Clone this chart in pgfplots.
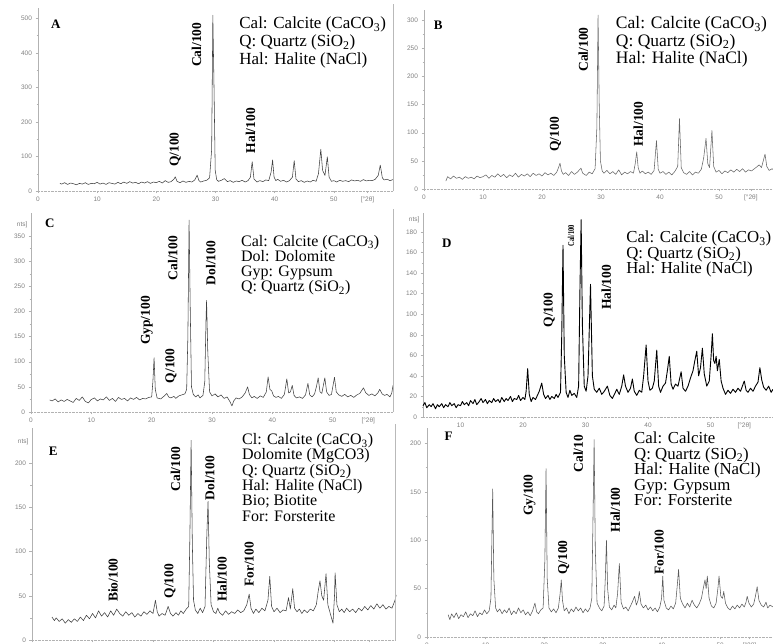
\documentclass[border=0pt]{standalone}
\usepackage{pgfplots}
\pgfplotsset{compat=1.18}
\usepackage{fontspec}
\setmainfont{Liberation Serif}
\newfontfamily\ticksf{Liberation Sans}

\newcommand{\peakfont}{\bfseries\fontsize{13.5}{14}\selectfont}
\newcommand{\panelfont}{\bfseries\fontsize{13}{14}\selectfont}

\tikzset{
  legtxt/.style={anchor=north west, align=left, inner sep=0pt},
  plab/.style={rotate=90, anchor=west, inner sep=0pt, font=\peakfont},
}
\pgfplotsset{
  xrd/.style={
    scale only axis,
    axis x line=bottom,
    axis y line=left,
    x axis line style={gray!60, densely dotted, -},
    y axis line style={gray!60, -},
    tick style={gray!60, thin},
    tick align=outside,
    major tick length=2.5pt,
    minor tick length=1.5pt,
    minor x tick num=4,
    minor y tick num=1,
    ytick pos=left,
    xtick pos=bottom,
    tick label style={font=\ticksf\fontsize{6.5}{7}\selectfont, text=gray},
    /pgf/number format/assume math mode=true,
    clip=false,
    every axis plot/.append style={line join=round},
  },
  sig/.style={black!75, line width=0.55pt},
}
% right-hand frame line of the left-column panels
\newcommand{\rightframe}{\draw[gray!55, thin] (rel axis cs:1,0) -- (rel axis cs:1,1.02);}

\begin{document}
\begin{tikzpicture}
\path[use as bounding box] (0pt,0pt) rectangle (773pt,644pt);

% ---------------- A ----------------
\begin{axis}[xrd, at={(38pt,453pt)}, width=355pt, height=183pt,
  xmin=0, xmax=60, ymin=0, ymax=530,
  xtick={0,10,20,30,40,50,55.7}, xticklabels={0,10,20,30,40,50,{[°2θ]}},
  ytick={0,100,...,500}]
\addplot[sig] table {
3.7 22
4.0 20
4.5 24
5.0 19
5.5 23
6.0 21
6.5 18
7.0 22
7.5 20
8.0 24
8.5 19
9.0 22
9.5 21
10.0 25
10.5 20
11.0 23
11.5 19
12.0 24
12.5 22
13.0 20
13.5 25
14.0 21
14.5 26
15.0 22
15.5 27
16.0 23
16.5 25
17.0 21
17.5 26
18.0 23
18.5 27
19.0 22
19.5 26
20.0 24
20.5 28
21.0 23
21.5 30
22.0 25
22.5 27
23.0 35
23.2 41
23.5 28
24.0 24
24.5 29
25.0 25
25.5 28
26.0 26
26.5 32
26.9 46
27.2 30
27.5 26
28.0 29
28.5 31
29.0 38
29.35 120
29.55 509
29.75 300
29.95 60
30.2 33
30.5 28
31.0 31
31.5 36
32.0 27
32.5 30
33.0 25
33.5 29
34.0 27
34.5 31
35.0 26
35.5 30
35.9 40
36.2 85
36.5 35
37.0 26
37.5 30
38.0 27
38.5 32
39.0 30
39.4 55
39.65 90
39.9 40
40.2 30
40.5 34
41.0 28
41.5 31
42.0 26
42.5 30
43.0 40
43.3 88
43.6 35
44.0 27
44.5 30
45.0 25
45.5 29
46.0 26
46.5 31
47.0 28
47.4 50
47.8 121
48.1 60
48.5 45
48.9 99
49.2 40
49.6 28
50.0 30
50.5 26
51.0 31
51.5 28
52.0 30
52.5 27
53.0 32
53.5 29
54.0 31
54.5 28
55.0 33
55.5 29
56.0 31
56.5 30
57.0 34
57.5 45
57.85 75
58.2 38
58.5 32
59.0 34
59.5 30
60.0 33
};
\rightframe
\node[font=\panelfont] at (axis cs:3.0,483) {A};
\node[plab] at (axis cs:23.2,69) {Q/100};
\node[plab] at (axis cs:26.8,359) {Cal/100};
\node[plab] at (axis cs:35.9,109) {Hal/100};
\node[legtxt, font=\fontsize{17}{18}\selectfont] at (axis cs:34.0,505)
  {Cal: Calcite (CaCO\textsubscript{3})\\Q: Quartz (SiO\textsubscript{2})\\Hal: Halite (NaCl)};
\end{axis}

% ---------------- B ----------------
\begin{axis}[xrd, at={(424pt,455pt)}, width=354pt, height=179pt,
  xmin=0, xmax=60, ymin=0, ymax=318,
  xtick={0,10,20,30,40,50,55.4}, xticklabels={0,10,20,30,40,50,{[°2θ]}},
  ytick={0,50,...,300}]
\addplot[sig, black!60] table {
3.7 14
4.0 22
4.5 18
5.0 23
5.5 19
6.0 21
6.5 17
7.0 22
7.5 19
8.0 21
8.5 18
9.0 23
9.5 20
10.0 22
10.5 25
11.0 19
11.5 24
12.0 21
12.5 27
13.0 22
13.5 26
14.0 20
14.5 25
15.0 22
15.5 28
16.0 21
16.5 26
17.0 23
17.5 27
18.0 22
18.5 28
19.0 24
19.5 27
20.0 23
20.5 29
21.0 25
21.5 28
22.0 24
22.5 30
22.8 38
23.05 46
23.3 32
23.6 26
24.0 29
24.5 24
25.0 31
25.5 26
26.0 30
26.6 37
26.9 28
27.5 24
28.0 30
28.5 27
29.0 36
29.3 110
29.5 309
29.7 150
29.9 50
30.2 32
30.5 28
31.0 33
31.5 27
32.0 31
32.5 26
33.0 34
33.5 25
34.0 30
34.5 27
35.0 31
35.5 28
35.8 45
36.05 66
36.3 38
36.6 28
37.0 32
37.5 27
38.0 30
38.5 26
39.0 33
39.4 86
39.7 35
40.0 28
40.5 31
41.0 26
41.5 30
42.0 25
42.5 31
43.0 40
43.3 125
43.6 38
44.0 29
44.5 26
45.0 31
45.5 25
46.0 30
46.5 28
47.0 35
47.4 55
47.8 90
48.1 45
48.4 38
48.8 104
49.1 40
49.5 30
50.0 33
50.5 27
51.0 32
51.5 29
52.0 34
52.5 30
53.0 35
53.5 31
54.0 36
54.5 30
55.0 34
55.5 32
56.0 36
56.5 40
56.8 43
57.2 38
57.8 62
58.1 40
58.5 33
59.0 36
59.5 31
60.0 35
};
\node[font=\panelfont] at (axis cs:2.4,290) {B};
\node[plab] at (axis cs:22.3,66) {Q/100};
\node[plab] at (axis cs:27.0,208) {Cal/100};
\node[plab] at (axis cs:36.3,75) {Hal/100};
\node[legtxt, font=\fontsize{17.5}{17.7}\selectfont] at (axis cs:32.5,307)
  {Cal: Calcite (CaCO\textsubscript{3})\\Q: Quartz (SiO\textsubscript{2})\\Hal: Halite (NaCl)};
\end{axis}

% ---------------- C ----------------
\begin{axis}[xrd, at={(31pt,232pt)}, width=362pt, height=199pt,
  xmin=0, xmax=60, ymin=0, ymax=396,
  xtick={0,10,20,30,40,50,55.9}, xticklabels={0,10,20,30,40,50,{[°2θ]}},
  ytick={0,50,...,350}, extra y ticks={373}, extra y tick labels={nts]},
  extra y tick style={major tick length=0pt}]
\addplot[sig] table {
3.1 24
3.5 22
4.0 26
4.5 20
5.0 24
5.5 21
6.0 25
6.5 22
7.0 19
7.5 27
8.0 23
8.5 30
9.0 21
9.5 18
10.0 25
10.5 28
11.0 22
11.5 26
12.0 24
12.5 30
13.0 23
13.5 27
14.0 21
14.5 29
15.0 25
15.5 27
16.0 22
16.5 28
17.0 25
17.5 29
18.0 24
18.5 27
19.0 26
19.5 29
20.0 30
20.2 60
20.4 108
20.6 45
20.9 28
21.5 26
22.0 31
22.5 37
22.8 30
23.2 28
23.7 31
24.0 27
24.5 32
25.0 34
25.5 36
25.8 45
26.0 150
26.2 382
26.4 200
26.6 50
26.9 35
27.3 30
27.7 34
28.0 28
28.5 33
28.8 60
29.0 180
29.1 222
29.3 120
29.6 40
30.0 32
30.5 36
31.0 30
31.5 34
32.0 27
32.5 30
33.0 20
33.3 12
33.6 22
34.0 28
34.5 26
35.0 30
35.5 38
35.9 50
36.2 35
36.6 28
37.0 31
37.5 27
38.0 32
38.5 29
39.0 40
39.3 70
39.6 45
39.9 42
40.2 32
40.6 29
41.0 31
41.5 27
42.0 35
42.4 66
42.7 38
43.0 40
43.3 53
43.6 33
44.0 28
44.5 30
45.0 27
45.5 34
45.9 57
46.2 34
46.6 30
47.0 36
47.3 50
47.6 68
47.9 40
48.2 37
48.7 68
49.0 40
49.4 33
49.8 35
50.3 69
50.6 40
51.0 34
51.5 31
52.0 35
52.5 30
53.0 33
53.5 29
54.0 34
54.5 37
55.1 48
55.5 38
56.0 33
56.5 36
57.0 32
57.5 38
57.8 45
58.2 36
58.6 33
59.0 35
59.5 30
59.8 38
60.0 53
};
\rightframe
\node[font=\panelfont] at (axis cs:3.1,375) {C};
\node[plab] at (axis cs:19.2,133) {Gyp/100};
\node[plab] at (axis cs:23.2,57) {Q/100};
\node[plab] at (axis cs:23.5,262) {Cal/100};
\node[plab] at (axis cs:29.8,252) {Dol/100};
\node[legtxt, font=\fontsize{16}{14.3}\selectfont] at (axis cs:34.8,352)
  {Cal: Calcite (CaCO\textsubscript{3})\\Dol: Dolomite\\Gyp: Gypsum\\Q: Quartz (SiO\textsubscript{2})};
\end{axis}

% ---------------- D ----------------
\begin{axis}[xrd, at={(423pt,227pt)}, width=350pt, height=203.5pt,
  xmin=4, xmax=60, ymin=0, ymax=198,
  xtick={10,20,30,40,50,55.4}, xticklabels={10,20,30,40,50,{[°2θ]}},
  ytick={0,20,...,180}, extra y ticks={192}, extra y tick labels={nts]},
  extra y tick style={major tick length=0pt}]
\addplot[black, line width=0.9pt] table {
4.0 11
4.3 14
4.6 9
5.0 12
5.3 10
5.6 13
6.0 8
6.3 12
6.6 10
7.0 13
7.3 9
7.6 12
8.0 10
8.3 14
8.6 11
9.0 13
9.3 9
9.6 12
10.0 11
10.3 15
10.6 12
11.0 14
11.3 11
11.6 16
12.0 13
12.3 17
12.6 12
13.0 15
13.3 18
13.6 14
14.0 17
14.3 13
14.6 16
15.0 14
15.3 18
15.6 15
16.0 17
16.3 14
16.6 19
17.0 15
17.3 18
17.6 16
18.0 20
18.3 15
18.6 18
19.0 17
19.3 21
19.6 16
20.0 19
20.3 17
20.5 25
20.75 47
21.0 22
21.3 15
21.6 19
22.0 17
22.3 21
22.6 25
23.0 33
23.3 22
23.6 18
24.0 21
24.3 17
24.6 20
25.0 18
25.3 22
25.6 19
26.0 24
26.2 80
26.4 167
26.6 60
26.9 24
27.2 19
27.5 26
27.8 21
28.2 23
28.6 19
28.9 30
29.1 120
29.3 192
29.5 90
29.8 30
30.1 25
30.4 40
30.8 129
31.1 40
31.4 27
31.8 24
32.2 28
32.6 22
33.0 25
33.5 30
33.9 21
34.3 18
34.7 23
35.0 27
35.4 22
35.8 30
36.1 41
36.4 30
36.8 24
37.2 28
37.5 37
37.8 25
38.2 21
38.6 26
39.0 24
39.3 40
39.7 70
40.0 35
40.3 26
40.7 28
41.0 35
41.4 65
41.7 30
42.0 24
42.4 30
42.8 33
43.1 45
43.4 59
43.7 32
44.0 27
44.4 32
44.8 30
45.3 44
45.6 28
46.0 25
46.4 30
46.8 38
47.2 45
47.5 55
47.8 64
48.1 40
48.4 48
48.7 67
49.0 42
49.4 30
49.8 35
50.1 60
50.3 81
50.5 55
50.7 52
50.9 59
51.1 45
51.4 56
51.7 35
52.0 28
52.4 22
52.8 26
53.2 23
53.6 27
54.0 24
54.4 28
54.8 25
55.1 30
55.4 35
55.7 26
56.0 24
56.4 28
56.8 25
57.2 30
57.6 34
57.9 48
58.2 36
58.5 29
58.9 26
59.3 30
59.7 24
60.0 27
};
\node[font=\panelfont] at (axis cs:7.8,169) {D};
\node[plab] at (axis cs:24.2,87) {Q/100};
\node[plab, font=\bfseries\fontsize{9}{9}\selectfont, xscale=0.72] at (axis cs:27.7,166) {Cal/100};
\node[plab] at (axis cs:33.3,104) {Hal/100};
\node[legtxt, font=\fontsize{16.8}{15.5}\selectfont] at (axis cs:36.5,181)
  {Cal: Calcite (CaCO\textsubscript{3})\\Q: Quartz (SiO\textsubscript{2})\\Hal: Halite (NaCl)};
\end{axis}

% ---------------- E ----------------
\begin{axis}[xrd, at={(32pt,4pt)}, width=363pt, height=212pt,
  xmin=0, xmax=60, ymin=0, ymax=240,
  xtick={0,10,20,30,40,50,55.7}, xticklabels={0,10,20,30,40,50,{[°2θ]}},
  ytick={0,50,...,200}, extra y ticks={224}, extra y tick labels={nts]},
  extra y tick style={major tick length=0pt}]
\addplot[sig] table {
3.3 26
3.7 22
4.0 25
4.5 21
5.0 24
5.5 19
6.0 23
6.5 20
7.0 24
7.5 21
8.0 26
8.5 22
9.0 28
9.5 24
10.0 30
10.5 25
11.0 33
11.5 27
12.0 31
12.5 26
13.0 33
13.5 28
14.0 35
14.5 30
15.0 27
15.5 32
16.0 28
16.5 31
17.0 26
17.5 30
18.0 27
18.5 32
19.0 29
19.5 33
20.0 30
20.4 45
20.7 32
21.0 27
21.5 30
22.0 28
22.5 38
22.9 30
23.3 27
23.8 31
24.2 28
24.6 33
25.0 30
25.5 35
25.9 38
26.1 120
26.3 226
26.5 110
26.7 45
27.0 34
27.4 30
27.8 36
28.2 31
28.6 38
28.9 120
29.1 157
29.3 90
29.6 40
30.0 32
30.4 30
30.7 36
31.0 31
31.5 28
32.0 33
32.5 29
33.0 32
33.5 30
34.0 34
34.5 31
35.0 33
35.5 40
35.9 52
36.2 36
36.6 30
37.0 35
37.5 31
38.0 36
38.5 33
39.0 45
39.3 72
39.6 38
40.0 32
40.5 36
41.0 31
41.5 34
42.0 33
42.4 48
42.7 35
43.1 58
43.4 36
43.8 32
44.2 35
44.6 30
45.0 34
45.5 31
46.0 35
46.5 33
47.0 40
47.3 55
47.6 67
47.9 50
48.2 45
48.6 75
48.9 40
49.3 30
49.75 19
50.0 50
50.1 76
50.4 40
50.8 32
51.2 35
51.6 31
52.0 36
52.5 32
53.0 35
53.5 31
54.0 36
54.5 33
55.0 38
55.5 34
56.0 39
56.5 35
57.0 41
57.5 36
58.0 40
58.5 35
59.0 38
59.5 36
60.0 45
60.2 51
};
\rightframe
\node[font=\panelfont] at (axis cs:3.5,214) {E};
\node[plab] at (axis cs:13.4,43) {Bio/100};
\node[plab] at (axis cs:22.8,47) {Q/100};
\node[plab] at (axis cs:23.7,168) {Cal/100};
\node[plab] at (axis cs:29.4,158) {Dol/100};
\node[plab] at (axis cs:31.4,43) {Hal/100};
\node[plab] at (axis cs:35.9,60) {For/100};
\node[legtxt, font=\fontsize{16}{15.3}\selectfont] at (axis cs:34.7,234)
  {Cl: Calcite (CaCO\textsubscript{3})\\Dolomite (MgCO3)\\Q: Quartz (SiO\textsubscript{2})\\Hal: Halite (NaCl)\\Bio; Biotite\\For: Forsterite};
\end{axis}

% ---------------- F ----------------
\begin{axis}[xrd, at={(427pt,7pt)}, width=346pt, height=209pt,
  xmin=0, xmax=59, ymin=0, ymax=216,
  xtick={0,10,20,30,40,50,55}, xticklabels={0,10,20,30,40,50,{[°2θ]}},
  ytick={0,50,...,200}]
\addplot[sig, black!65] table {
3.6 23
3.9 18
4.2 24
4.6 20
5.0 25
5.4 19
5.8 23
6.2 21
6.6 26
7.0 20
7.4 24
7.8 22
8.2 27
8.6 21
9.0 25
9.4 23
9.8 28
10.2 24
10.6 27
10.9 40
11.2 153
11.4 60
11.7 30
12.0 26
12.4 29
12.8 24
13.2 28
13.6 25
14.0 30
14.4 23
14.8 27
15.2 24
15.6 30
16.0 25
16.4 28
16.8 23
17.2 26
17.6 22
18.0 27
18.4 35
18.7 26
19.0 24
19.4 28
19.8 30
20.1 80
20.3 174
20.5 60
20.8 30
21.2 26
21.6 29
22.0 25
22.4 30
22.7 45
22.9 59
23.1 38
23.4 27
23.8 30
24.2 24
24.6 29
25.0 26
25.4 31
25.8 27
26.2 30
26.6 25
27.0 29
27.4 26
27.8 30
28.1 40
28.3 120
28.5 204
28.7 90
29.0 35
29.4 30
29.8 27
30.2 32
30.4 60
30.6 100
30.8 50
31.1 31
31.5 28
31.9 33
32.2 30
32.5 45
32.8 76
33.1 36
33.5 29
33.9 31
34.3 27
34.7 32
35.0 36
35.4 42
35.7 33
36.0 38
36.2 47
36.5 34
36.9 30
37.3 33
37.7 28
38.1 31
38.5 27
38.9 30
39.3 26
39.7 31
40.0 40
40.2 63
40.4 38
40.8 30
41.2 28
41.6 32
42.0 29
42.4 35
42.7 55
42.9 70
43.2 40
43.6 34
44.0 30
44.4 35
44.8 31
45.2 38
45.6 33
46.0 30
46.4 34
46.8 40
47.1 50
47.4 59
47.6 50
47.8 63
48.1 40
48.5 32
48.9 30
49.3 35
49.6 50
49.8 63
50.1 42
50.4 40
50.6 47
50.9 35
51.3 30
51.7 28
52.1 32
52.5 29
52.9 33
53.3 30
53.7 34
54.1 31
54.4 36
54.6 42
54.9 35
55.3 31
55.7 34
56.0 42
56.3 52
56.6 38
57.0 33
57.4 31
57.8 36
58.1 30
58.5 33
59.0 31
};
\node[font=\panelfont] at (axis cs:3.7,207) {F};
\node[plab] at (axis cs:17.5,125) {Gy/100};
\node[plab] at (axis cs:23.3,64) {Q/100};
\node[plab] at (axis cs:25.8,170) {Cal/10};
\node[plab] at (axis cs:32.1,108) {Hal/100};
\node[plab] at (axis cs:39.6,64) {For/100};
\node[legtxt, font=\fontsize{16.8}{15.5}\selectfont] at (axis cs:35.3,212)
  {Cal: Calcite\\Q: Quartz (SiO\textsubscript{2})\\Hal: Halite (NaCl)\\Gyp: Gypsum\\For: Forsterite};
\end{axis}
\end{tikzpicture}
\end{document}
